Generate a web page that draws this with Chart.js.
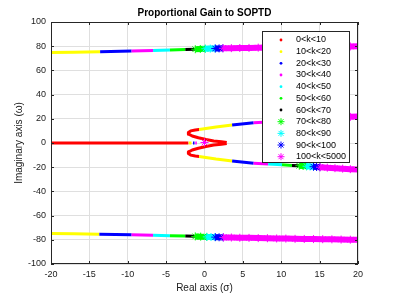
<!DOCTYPE html>
<html>
<head>
<meta charset="utf-8">
<script src="https://cdn.jsdelivr.net/npm/chart.js@4.4.0/dist/chart.umd.min.js"></script>
<style>
  html, body { margin: 0; padding: 0; background: #fff; }
  #wrap { width: 395px; height: 297px; }
</style>
</head>
<body>
<div id="wrap"><canvas id="rootLocus" width="395" height="297"></canvas></div>
<script>
const gainLabels = ['0<k<10', '10<k<20', '20<k<30', '30<k<40', '40<k<50', '50<k<60',
  '60<k<70', '70<k<80', '80<k<90', '90<k<100', '100<k<5000'];

const xTicks = [-20, -15, -10, -5, 0, 5, 10, 15, 20];
const yTicks = [-100, -80, -60, -40, -20, 0, 20, 40, 60, 80, 100];

// each gain range: list of branches, each branch a list of [real, imag] points
const k0to10 = [
  [[-21, 0], [-2.1, 0]],
  [[2.9, 0.4], [2.2, 1.0], [1.2, 1.7], [0.2, 2.9], [-0.8, 4.3], [-1.6, 5.8], [-2.05, 7.3], [-2.1, 8.7], [-1.8, 10.0], [-1.2, 10.8], [-0.7, 11.1]],
  [[2.9, -0.4], [2.2, -1.0], [1.2, -1.7], [0.2, -2.9], [-0.8, -4.3], [-1.6, -5.8], [-2.05, -7.3], [-2.1, -8.7], [-1.8, -10.0], [-1.2, -10.8], [-0.7, -11.1]]
];
const k10to20 = [
  [[-21, 74.8], [-17, 75.1], [-13.6, 75.5]],
  [[-21, -74.8], [-17, -75.1], [-13.7, -75.4]],
  [[-2.05, 0], [-1.7, 0]],
  [[-0.7, 11.1], [1.5, 13.2], [3.6, 14.9]],
  [[-0.7, -11.1], [1.5, -13.2], [3.6, -14.9]]
];
const k20to30 = [
  [[-13.6, 75.5], [-9.5, 76.1]],
  [[-13.7, -75.4], [-9.5, -75.9]],
  [[-1.5, 0], [-1.3, 0]],
  [[3.6, 14.9], [6.4, 16.8]],
  [[3.6, -14.9], [6.4, -16.8]]
];
const k30to40 = [
  [[-9.5, 76.1], [-6.7, 76.5]],
  [[-9.5, -75.9], [-6.7, -76.3]],
  [[-1.2, 0], [-1.0, 0]],
  [[6.4, 16.8], [8.3, 17.4]],
  [[6.4, -16.8], [8.3, -17.4]]
];
const k40to50 = [
  [[-6.7, 76.5], [-4.5, 76.9]],
  [[-6.7, -76.3], [-4.5, -76.6]],
  [[8.3, 17.4], [10.1, 18.0]],
  [[8.3, -17.4], [10.1, -18.0]]
];
const k50to60 = [
  [[-4.5, 76.9], [-2.5, 77.2]],
  [[-4.5, -76.6], [-2.5, -76.9]],
  [[10.1, 18.0], [11.4, 18.5]],
  [[10.1, -18.0], [11.4, -18.5]]
];
const k60to70 = [
  [[-2.5, 77.2], [-1.2, 77.4]],
  [[-2.5, -76.9], [-1.2, -77.1]],
  [[11.4, 18.5], [12.35, 18.8]],
  [[11.4, -18.5], [12.35, -18.8]]
];
const k70to80 = [
  [[-1.2, 77.5], [-0.55, 77.7], [0.1, 77.9]],
  [[-1.2, -77.2], [-0.5, -77.4], [0.3, -77.6]],
  [[12.35, 18.8], [12.85, 19.0], [13.3, 19.2]],
  [[12.35, -18.8], [12.85, -19.0], [13.3, -19.2]]
];
const k80to90 = [
  [[0.1, 77.9], [0.75, 78.0], [1.4, 78.1]],
  [[0.3, -77.6], [0.85, -77.7], [1.4, -77.8]],
  [[13.3, 19.2], [13.75, 19.4], [14.2, 19.6]],
  [[13.3, -19.2], [13.75, -19.4], [14.2, -19.6]]
];
const k90to100 = [
  [[1.4, 78.1], [1.9, 78.2], [2.4, 78.3]],
  [[1.4, -77.8], [1.9, -77.9], [2.45, -78.0]],
  [[14.2, 19.6], [14.6, 19.8], [15.05, 20.0]],
  [[14.2, -19.6], [14.6, -19.8], [15.05, -20.0]]
];
const k100to5000 = [
  [[2.4, 78.3], [3.5, 78.4], [4.6, 78.5], [5.8, 78.6], [7.0, 78.8], [8.2, 78.9], [9.4, 79.0], [10.6, 79.1], [11.8, 79.2], [13.0, 79.3], [14.2, 79.4], [15.4, 79.5], [16.6, 79.6], [17.8, 79.7], [19.0, 79.8], [20.3, 79.9]],
  [[2.45, -78.0], [3.5, -78.1], [4.6, -78.3], [5.8, -78.4], [7.0, -78.6], [8.2, -78.7], [9.4, -78.9], [10.6, -79.0], [11.8, -79.2], [13.0, -79.3], [14.2, -79.4], [15.4, -79.5], [16.6, -79.6], [17.8, -79.8], [19.0, -79.9], [20.3, -80.0]],
  [[15.05, 20.0], [16.0, 20.4], [17.0, 20.8], [18.0, 21.2], [19.0, 21.6], [20.3, 22.1]],
  [[15.05, -20.0], [16.0, -20.4], [17.0, -20.8], [18.0, -21.2], [19.0, -21.6], [20.3, -22.1]],
  [[0, 0.4]]
];

const seriesData = [k0to10, k10to20, k20to30, k30to40, k40to50, k50to60,
  k60to70, k70to80, k80to90, k90to100, k100to5000];
const seriesColors = ['#ff0000', '#ffff00', '#0000ff', '#ff00ff', '#00ffff', '#00ff00',
  '#000000', '#00ff00', '#00ffff', '#0000ff', '#ff00ff'];
const starMarker = [false, false, false, false, false, false, false, true, true, true, true];

const axisColor = '#262626';
const fontFamily = '"Liberation Sans", Arial, Helvetica, sans-serif';

// flatten branches, with a gap point between them so lines break
function toPoints(branches) {
  const pts = [];
  branches.forEach((branch, i) => {
    if (i > 0) pts.push({ x: null, y: null });
    branch.forEach(([x, y]) => pts.push({ x: x, y: y }));
  });
  return pts;
}

function drawMarker(ctx, x, y, color, star) {
  ctx.save();
  if (star) {
    const r = 3.5, d = r * Math.SQRT1_2;
    ctx.strokeStyle = color;
    ctx.lineWidth = 1;
    ctx.beginPath();
    ctx.moveTo(x - r, y); ctx.lineTo(x + r, y);
    ctx.moveTo(x, y - r); ctx.lineTo(x, y + r);
    ctx.moveTo(x - d, y - d); ctx.lineTo(x + d, y + d);
    ctx.moveTo(x - d, y + d); ctx.lineTo(x + d, y - d);
    ctx.stroke();
  } else {
    ctx.fillStyle = color;
    ctx.beginPath();
    ctx.arc(x, y, 1.4, 0, Math.PI * 2);
    ctx.fill();
  }
  ctx.restore();
}

// matlab style box with inward ticks
const axesBox = {
  id: 'axesBox',
  afterDatasetsDraw(chart) {
    const { ctx, chartArea: a, scales } = chart;
    ctx.save();
    ctx.strokeStyle = axisColor;
    ctx.lineWidth = 1;
    ctx.strokeRect(a.left + 0.5, a.top + 0.5, a.right - a.left - 1, a.bottom - a.top - 1);
    ctx.beginPath();
    xTicks.forEach(v => {
      const px = Math.round(scales.x.getPixelForValue(v)) + 0.5;
      ctx.moveTo(px, a.bottom); ctx.lineTo(px, a.bottom - 3);
      ctx.moveTo(px, a.top); ctx.lineTo(px, a.top + 3);
    });
    yTicks.forEach(v => {
      const py = Math.round(scales.y.getPixelForValue(v)) + 0.5;
      ctx.moveTo(a.left, py); ctx.lineTo(a.left + 3, py);
      ctx.moveTo(a.right, py); ctx.lineTo(a.right - 3, py);
    });
    ctx.stroke();
    ctx.restore();
  }
};

const insideLegend = {
  id: 'insideLegend',
  afterDraw(chart) {
    const { ctx, chartArea } = chart;
    const w = 87, h = 131;
    const left = Math.round(chartArea.right) - 96;
    const top = Math.round(chartArea.top) + 9;
    ctx.save();
    ctx.fillStyle = '#ffffff';
    ctx.fillRect(left, top, w, h);
    ctx.strokeStyle = axisColor;
    ctx.lineWidth = 1;
    ctx.strokeRect(left + 0.5, top + 0.5, w, h);
    ctx.font = '9px ' + fontFamily;
    ctx.textBaseline = 'middle';
    ctx.textAlign = 'left';
    gainLabels.forEach((label, i) => {
      const y = top + 9 + i * 11.67;
      drawMarker(ctx, left + 19, y, seriesColors[i], starMarker[i]);
      ctx.fillStyle = '#000000';
      ctx.fillText(label, left + 34, y);
    });
    ctx.restore();
  }
};

const datasets = seriesData.map((branches, i) => ({
  label: gainLabels[i],
  data: toPoints(branches),
  showLine: true,
  spanGaps: false,
  borderColor: seriesColors[i],
  backgroundColor: seriesColors[i],
  borderWidth: starMarker[i] ? 6 : 3,
  borderCapStyle: 'butt',
  borderJoinStyle: 'round',
  pointStyle: starMarker[i] ? 'star' : 'circle',
  pointRadius: starMarker[i] ? 4 : 0,
  pointBorderWidth: 1,
  pointBorderColor: seriesColors[i],
  pointHoverRadius: 0,
  order: seriesData.length - i
}));

new Chart(document.getElementById('rootLocus'), {
  type: 'scatter',
  data: { datasets: datasets },
  options: {
    responsive: false,
    animation: false,
    devicePixelRatio: 1,
    layout: { padding: { left: 0, right: 37, top: 0, bottom: 0 } },
    plugins: {
      legend: { display: false },
      tooltip: { enabled: false },
      title: {
        display: true,
        text: 'Proportional Gain to SOPTD',
        fullSize: false,
        color: '#000000',
        font: { family: fontFamily, size: 10, weight: 'bold', lineHeight: 1.2 },
        padding: { top: 7, bottom: 3 }
      }
    },
    scales: {
      x: {
        type: 'linear',
        min: -20,
        max: 20,
        afterBuildTicks: scale => { scale.ticks = xTicks.map(v => ({ value: v })); },
        afterFit: scale => { scale.height = 33; },
        ticks: {
          color: '#1a1a1a',
          font: { family: fontFamily, size: 9 },
          padding: 5,
          maxRotation: 0
        },
        grid: { color: '#dfdfdf', drawTicks: false },
        border: { display: false },
        title: {
          display: true,
          text: 'Real axis (σ)',
          color: '#1a1a1a',
          font: { family: fontFamily, size: 10 },
          padding: { top: 0, bottom: 3 }
        }
      },
      y: {
        type: 'linear',
        min: -100,
        max: 100,
        afterBuildTicks: scale => { scale.ticks = yTicks.map(v => ({ value: v })); },
        afterFit: scale => { scale.width = 51; },
        ticks: {
          color: '#1a1a1a',
          font: { family: fontFamily, size: 9 },
          padding: 5
        },
        grid: { color: '#dfdfdf', drawTicks: false },
        border: { display: false },
        title: {
          display: true,
          text: 'Imaginary axis (ω)',
          color: '#1a1a1a',
          font: { family: fontFamily, size: 10 },
          padding: { top: 13, bottom: 0 }
        }
      }
    }
  },
  plugins: [axesBox, insideLegend]
});
</script>
</body>
</html>
